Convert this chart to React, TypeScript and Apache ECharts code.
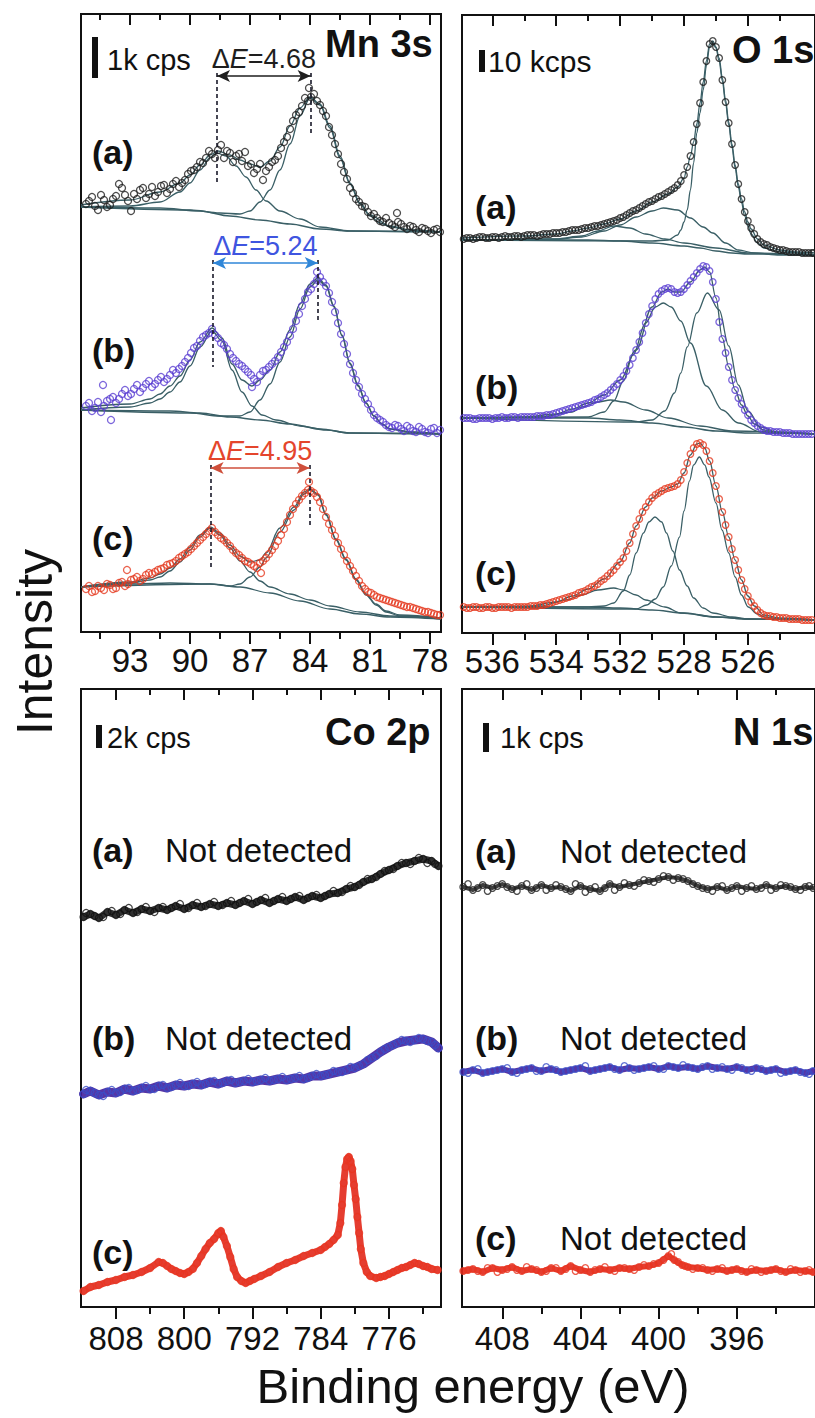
import React, { useEffect, useRef } from "react";
import * as echarts from "echarts";

const FONT = '"Liberation Sans", Arial, Helvetica, sans-serif';
const FIT = "#3a5f66";
const INK = "#111111";
const BLACK = "#1e1e1e";
const PURPLE = "#5a3fd2";
const RED = "#e5391f";

// ---------- axes (binding energy, eV) ----------
const MN_RANGE = [77.45, 95.45];
const MN_MAJOR = [93, 90, 87, 84, 81, 78];
const MN_MINOR = [94.5, 91.5, 88.5, 85.5, 82.5, 79.5];
const MN_TICK_LABELS = ["93", "90", "87", "84", "81", "78"];

const O_RANGE = [525.9, 536.95];
const O_MAJOR = [536, 534, 532, 530, 528];
const O_MINOR = [535, 533, 531, 529, 527];
const O_TICK_LABELS = ["536", "534", "532", "528", "526"];

const CO_RANGE = [769.9, 812.1];
const CO_MAJOR = [808, 800, 792, 784, 776];
const CO_MINOR = [804, 796, 788, 780, 772];
const CO_TICK_LABELS = ["808", "800", "792", "784", "776"];

const N_RANGE = [392.0, 410.06];
const N_MAJOR = [408, 404, 400, 396];
const N_MINOR = [406, 402, 398, 394];
const N_TICK_LABELS = ["408", "404", "400", "396"];

const INTENSITY_MAX = 618; // a.u. (stacked, offset)

// ---------- Mn 3s ----------
const MN_A = [[95.2,428],[94.9,435],[94.6,422],[94.3,432],[94.0,427],[93.7,436],[93.4,444],[93.1,431],[92.8,438],[92.5,442],[92.2,434],[91.9,445],[91.6,440],[91.3,447],[91.0,443],[90.7,451],[90.4,449],[90.1,458],[89.8,462],[89.5,470],[89.2,474],[88.9,478],[88.6,482],[88.3,474],[88.0,479],[87.7,476],[87.4,471],[87.1,466],[86.8,459],[86.5,468],[86.2,461],[85.9,470],[85.6,476],[85.3,490],[85.0,503],[84.7,517],[84.4,526],[84.1,531],[83.8,538],[83.5,527],[83.2,516],[82.9,497],[82.6,478],[82.3,460],[82.0,444],[81.7,433],[81.4,426],[81.1,420],[80.8,418],[80.5,411],[80.2,414],[79.9,407],[79.6,410],[79.3,405],[79.0,406],[78.7,402],[78.4,404],[78.1,401],[77.8,402],[77.5,400],[93.55,448],[92.95,421],[79.65,419],[88.45,487],[84.05,544],[86.35,452],[87.25,480]];
const MN_A_EXTRA = [[95.05,431],[94.75,426],[94.45,437],[94.15,425],[93.85,433],[93.25,437],[92.65,433],[92.35,444],[92.05,438],[91.75,436],[91.45,446],[91.15,439],[90.85,448],[90.55,445],[90.25,452],[89.95,461],[89.65,465],[89.35,469],[89.05,481],[88.75,474],[88.15,481],[87.85,470],[87.55,478],[86.95,468],[86.65,463],[86.05,465],[85.75,472],[85.45,484],[85.15,495],[84.85,511],[84.55,520],[84.25,534],[83.95,535],[83.65,531],[83.35,521],[83.05,505],[82.75,488],[82.45,468],[82.15,453],[81.85,439],[81.55,430],[81.25,425],[80.95,416],[80.65,414],[80.35,410],[80.05,409],[79.75,405],[79.45,408],[79.15,403],[78.85,405],[78.55,400],[78.25,403],[77.95,399],[77.65,403]];
const MN_A_BG = [[95.45,425],[91.5,424],[89.5,421],[88,416],[86.5,412],[85,408],[83.5,403],[82,401],[77.45,400]];
const MN_A_P1 = [[95.45,425],[93,426],[91.5,430],[90.5,440],[90,449],[89.5,462],[89,474],[88.65,479],[88.2,476],[87.7,466],[87.2,455],[86.7,442],[86.2,431],[85.5,421],[84.5,413],[83.5,405],[82,401],[77.45,400]];
const MN_A_P2 = [[95.45,425],[90,422],[88.5,419],[87.5,418],[87,421],[86.5,430],[86,442],[85.5,462],[85,488],[84.5,516],[84,534],[83.5,527],[83,504],[82.5,474],[82,448],[81.5,428],[81,416],[80.5,409],[80,405],[79,402],[77.45,400]];
const MN_A_ENV = [[95.45,427],[93,432],[91.5,440],[90.5,449],[90,457],[89.5,467],[89,477],[88.6,481],[88,477],[87.5,472],[87,468],[86.5,465],[86,471],[85.5,485],[85,506],[84.5,524],[84,535],[83.5,528],[83,506],[82.5,476],[82,449],[81.5,429],[81,417],[80,406],[79,402],[77.45,400]];

const MN_B = [[95.2,226],[94.9,221],[94.6,230],[94.3,226],[94.0,233],[93.7,229],[93.4,238],[93.1,236],[92.8,243],[92.5,240],[92.2,248],[91.9,245],[91.6,252],[91.3,250],[91.0,257],[90.7,259],[90.4,266],[90.1,274],[89.8,284],[89.5,291],[89.2,297],[88.9,303],[88.6,294],[88.3,287],[88.0,278],[87.7,271],[87.4,266],[87.1,260],[86.8,253],[86.5,257],[86.2,262],[85.9,268],[85.6,275],[85.3,285],[85.0,296],[84.7,311],[84.4,326],[84.1,340],[83.8,348],[83.5,355],[83.2,346],[82.9,330],[82.6,309],[82.3,288],[82.0,268],[81.7,252],[81.4,238],[81.1,228],[80.8,217],[80.5,212],[80.2,207],[79.9,204],[79.6,206],[79.3,201],[79.0,204],[78.7,200],[78.4,203],[78.1,199],[77.8,204],[77.5,202],[94.35,247],[93.95,212],[86.9,245],[83.65,360]];
const MN_B_EXTRA = [[95.05,229],[94.75,224],[94.45,220],[94.15,231],[93.85,235],[93.55,233],[93.25,242],[92.95,238],[92.65,247],[92.35,244],[92.05,251],[91.75,248],[91.45,255],[91.15,253],[90.85,262],[90.55,263],[90.25,270],[89.95,279],[89.65,286],[89.35,295],[89.05,299],[88.75,297],[88.45,289],[88.15,283],[87.85,274],[87.55,268],[87.25,263],[86.95,257],[86.65,250],[86.35,261],[86.05,265],[85.75,271],[85.45,280],[85.15,290],[84.85,303],[84.55,318],[84.25,333],[83.95,343],[83.65,352],[83.35,350],[83.05,339],[82.75,320],[82.45,298],[82.15,278],[81.85,259],[81.55,245],[81.25,233],[80.95,222],[80.65,214],[80.35,210],[80.05,205],[79.75,207],[79.45,203],[79.15,206],[78.85,201],[78.55,205],[78.25,200],[77.95,203],[77.65,199]];
const MN_B_BG = [[95.45,222],[91,221],[89.5,219],[88,215],[86.5,212],[85,208],[83.5,203],[82,199],[77.45,198]];
const MN_B_P1 = [[95.45,222],[93,225],[92,229],[91.5,233],[91,240],[90.5,250],[90,266],[89.5,285],[88.9,301],[88.4,291],[87.9,262],[87.4,240],[86.9,226],[86.4,217],[85.7,212],[84.5,206],[83.2,202],[82,199],[77.45,198]];
const MN_B_P2 = [[95.45,222],[90,219],[88.5,216],[87.5,216],[87,220],[86.5,232],[86,248],[85.5,270],[85,295],[84.5,323],[84,345],[83.6,352],[83.2,346],[82.8,325],[82.4,296],[82,268],[81.6,246],[81.2,229],[80.8,216],[80.4,208],[80,203],[79,200],[77.45,198]];
const MN_B_ENV = [[95.45,224],[93,228],[92,233],[91.5,238],[91,246],[90.5,256],[90,272],[89.5,290],[88.9,304],[88.4,294],[87.9,268],[87.4,252],[86.9,246],[86.5,252],[86,262],[85.5,280],[85,302],[84.5,328],[84,348],[83.6,354],[83.2,347],[82.8,326],[82.4,297],[82,269],[81.6,247],[81.2,229],[80.8,216],[80.4,208],[80,203],[79,200],[77.45,198]];

const MN_C = [[95.2,43],[94.9,40],[94.6,46],[94.3,42],[94.0,47],[93.7,44],[93.4,50],[93.1,48],[92.8,53],[92.5,51],[92.2,57],[91.9,58],[91.6,62],[91.3,64],[91.0,68],[90.7,71],[90.4,76],[90.1,80],[89.8,86],[89.5,92],[89.2,98],[88.9,104],[88.6,97],[88.3,92],[88.0,86],[87.7,79],[87.4,74],[87.1,70],[86.8,66],[86.5,69],[86.2,74],[85.9,82],[85.6,91],[85.3,103],[85.0,117],[84.7,128],[84.4,136],[84.1,142],[83.8,139],[83.5,130],[83.2,115],[82.9,102],[82.6,89],[82.3,77],[82.0,66],[81.7,56],[81.4,46],[81.1,40],[80.8,37],[80.5,34],[80.2,32],[79.9,30],[79.6,28],[79.3,26],[79.0,25],[78.7,23],[78.4,21],[78.1,20],[77.8,18],[77.5,17],[93.15,62],[86.45,59],[84.05,150]];
const MN_C_EXTRA = [[95.05,46],[94.75,41],[94.45,44],[94.15,48],[93.85,43],[93.55,49],[93.25,46],[92.95,52],[92.65,55],[92.35,53],[92.05,59],[91.75,60],[91.45,63],[91.15,67],[90.85,69],[90.55,74],[90.25,78],[89.95,83],[89.65,89],[89.35,95],[89.05,101],[88.75,100],[88.45,94],[88.15,89],[87.85,82],[87.55,77],[87.25,71],[86.95,68],[86.65,64],[86.35,71],[86.05,78],[85.75,86],[85.45,97],[85.15,110],[84.85,123],[84.55,132],[84.25,139],[83.95,141],[83.65,135],[83.35,123],[83.05,108],[82.75,96],[82.45,83],[82.15,71],[81.85,61],[81.55,51],[81.25,43],[80.95,39],[80.65,35],[80.35,33],[80.05,31],[79.75,29],[79.45,27],[79.15,25],[78.85,24],[78.55,22],[78.25,20],[77.95,19],[77.65,17]];
const MN_C_BG = [[95.45,45],[93,48],[91,49],[89,48],[87.5,45],[86,39],[84.5,31],[83,23],[81.5,18],[80,15],[77.45,13]];
const MN_C_P1 = [[95.45,45],[93,49],[92,52],[91.5,55],[91,61],[90.5,70],[90,82],[89.5,95],[89,104],[88.5,97],[88,84],[87.5,71],[87,60],[86.5,51],[86,45],[85,38],[84,32],[83,26],[81.5,20],[80,16],[77.45,14]];
const MN_C_P2 = [[95.45,45],[89,48],[88,46],[87.5,48],[87,55],[86.5,65],[86.2,74],[85.5,100],[84.8,122],[84.3,138],[84,142],[83.6,137],[83.2,117],[82.7,92],[82.2,72],[81.7,52],[81.2,37],[80.7,27],[80.2,20],[79.5,16],[77.45,13]];
const MN_C_ENV = [[95.45,45],[93,50],[92,54],[91.5,58],[91,64],[90.5,73],[90,85],[89.5,97],[89,105],[88.5,99],[88,87],[87.5,76],[87,70],[86.5,72],[86.2,79],[85.5,104],[84.8,125],[84.3,140],[84,143],[83.6,138],[83.2,118],[82.7,93],[82.2,73],[81.7,53],[81.2,38],[80.7,28],[80.2,21],[79.5,17],[77.45,14]];

// multiplet splitting: peak energies and ΔE labels
const MN_SPLIT = [
  { label: "4.68", hi: 88.65, lo: 83.97, y: 556, yHi: 450, yLo: 499, text: BLACK, arrow: BLACK },
  { label: "5.24", hi: 88.85, lo: 83.61, y: 369, yHi: 265, yLo: 312, text: "#3f55e0", arrow: "#2f86d8" },
  { label: "4.95", hi: 88.97, lo: 84.02, y: 164, yHi: 62, yLo: 107, text: "#e4452c", arrow: "#cf4f3b" },
];

// ---------- O 1s ----------
const O_A = [[536.8,395],[536.6,394],[536.4,396],[536.2,395],[536.0,396],[535.8,395],[535.6,397],[535.4,396],[535.2,397],[535.0,397],[534.8,398],[534.6,397],[534.4,399],[534.2,399],[534.0,400],[533.8,401],[533.6,402],[533.4,403],[533.2,404],[533.0,405],[532.8,407],[532.6,408],[532.4,410],[532.2,412],[532.0,415],[531.8,418],[531.6,422],[531.4,425],[531.2,429],[531.1,431],[531.0,432],[530.9,434],[530.8,436],[530.7,437],[530.6,439],[530.5,441],[530.4,443],[530.3,445],[530.2,448],[530.1,452],[530.0,458],[529.9,466],[529.8,477],[529.7,491],[529.6,509],[529.5,530],[529.4,551],[529.3,572],[529.2,589],[529.1,592],[529.0,586],[528.9,575],[528.8,553],[528.7,531],[528.6,510],[528.5,489],[528.4,468],[528.3,449],[528.2,434],[528.1,421],[528.0,412],[527.9,405],[527.8,399],[527.7,394],[527.6,391],[527.4,388],[527.2,385],[527.0,383],[526.8,382],[526.6,381],[526.4,381],[526.2,380],[526.0,380]];
const O_A_EXTRA = [[536.9,394],[536.7,395],[536.5,395],[536.3,396],[536.1,395],[535.9,396],[535.7,396],[535.5,396],[535.3,397],[535.1,396],[534.9,398],[534.7,398],[534.5,398],[534.3,399],[534.1,400],[533.9,400],[533.7,401],[533.5,403],[533.3,403],[533.1,405],[532.9,406],[532.7,407],[532.5,409],[532.3,411],[532.1,413],[531.9,416],[531.7,420],[531.5,423],[531.3,427],[527.5,389],[527.3,386],[527.1,384],[526.9,383],[526.7,381],[526.5,381],[526.3,380],[526.1,380],[525.95,380]];
const O_A_BG = [[536.95,393],[533,393],[532,392],[531,390],[530,387],[529.5,385],[529,382],[528.5,380],[528,379],[525.9,378]];
const O_A_C3 = [[536.95,393],[534,394],[533.2,397],[532.7,402],[532.2,407],[531.7,405],[531.2,399],[530.6,394],[530,390],[529,385],[528,380],[525.9,378]];
const O_A_C2 = [[536.95,393],[534,394],[533.2,396],[532.5,402],[532,408],[531.5,416],[531,422],[530.65,425],[530.2,423],[529.8,415],[529.4,406],[529.1,400],[528.7,390],[528.3,383],[527.8,380],[527,378],[525.9,378]];
const O_A_C1 = [[536.95,393],[531,392],[530.5,393],[530.2,398],[530.1,403],[530.0,411],[529.9,423],[529.8,443],[529.7,470],[529.6,500],[529.5,520],[529.4,543],[529.3,567],[529.2,586],[529.1,590],[529.0,585],[528.9,572],[528.8,552],[528.7,530],[528.6,508],[528.5,486],[528.4,465],[528.3,446],[528.2,430],[528.1,417],[528.0,407],[527.9,399],[527.7,390],[527.5,385],[527,381],[525.9,378]];
const O_A_ENV = [[536.95,395],[535,397],[534,399],[533.5,402],[533,405],[532.5,409],[532,414],[531.5,422],[531,431],[530.5,439],[530.2,446],[530,455],[529.9,466],[529.8,477],[529.7,491],[529.6,509],[529.5,530],[529.4,551],[529.3,572],[529.2,589],[529.1,592],[529,586],[528.9,575],[528.8,555],[528.7,533],[528.6,511],[528.5,489],[528.4,468],[528.3,449],[528.2,434],[528.1,421],[528,411],[527.9,404],[527.7,394],[527.5,388],[527,383],[526.5,381],[525.9,380]];

const O_B = [[536.8,215],[536.6,214],[536.4,215],[536.2,215],[536.0,214],[535.8,215],[535.6,215],[535.4,216],[535.2,215],[535.0,216],[534.8,216],[534.6,217],[534.4,217],[534.2,218],[534.0,220],[533.8,222],[533.6,224],[533.4,226],[533.2,228],[533.0,230],[532.8,233],[532.6,236],[532.5,238],[532.4,240],[532.3,243],[532.2,246],[532.1,249],[532.0,253],[531.9,257],[531.8,262],[531.7,268],[531.6,275],[531.5,283],[531.4,291],[531.3,300],[531.2,310],[531.1,319],[531.0,327],[530.9,334],[530.8,339],[530.7,342],[530.6,344],[530.5,345],[530.4,344],[530.3,341],[530.2,340],[530.1,341],[530.0,344],[529.9,348],[529.8,352],[529.7,356],[529.6,360],[529.5,364],[529.4,367],[529.3,366],[529.2,362],[529.1,351],[529.0,334],[528.9,311],[528.8,294],[528.7,280],[528.6,266],[528.5,253],[528.4,243],[528.3,235],[528.2,229],[528.1,223],[528.0,218],[527.9,213],[527.8,210],[527.7,207],[527.6,205],[527.5,203],[527.3,202],[527.1,201],[526.9,200],[526.7,200],[526.5,199],[526.3,199],[526.1,199]];
const O_B_EXTRA = [[536.9,215],[536.7,215],[536.5,214],[536.3,215],[536.1,215],[535.9,215],[535.7,216],[535.5,215],[535.3,216],[535.1,216],[534.9,216],[534.7,216],[534.5,217],[534.3,218],[534.1,219],[533.9,221],[533.7,223],[533.5,225],[533.3,227],[533.1,229],[532.9,231],[532.7,234],[527.4,202],[527.2,201],[527.0,201],[526.8,200],[526.6,199],[526.4,199],[526.2,199],[526.0,199]];
const O_B_BG = [[536.95,215],[533,215],[532,213],[531,210],[530,206],[529,202],[528,200],[525.9,199]];
const O_B_C3 = [[536.95,215],[534.5,216],[533.5,221],[533.2,226],[532.7,231],[532.3,233],[531.9,231],[531.2,223],[530.5,215],[529.5,207],[528.5,202],[525.9,199]];
const O_B_C2 = [[536.95,215],[533,216],[532.5,221],[532.2,232],[531.9,252],[531.6,278],[531.2,310],[530.9,326],[530.65,330],[530.4,326],[530.1,312],[529.8,290],[529.3,247],[528.8,223],[528.3,210],[527.6,201],[525.9,199]];
const O_B_C1 = [[536.95,215],[531.5,211],[531,213],[530.6,222],[530.3,240],[530.1,260],[529.9,286],[529.6,320],[529.27,340],[528.9,323],[528.6,287],[528.3,248],[528,222],[527.6,206],[527.1,201],[525.9,199]];
const O_B_ENV = [[536.95,215],[535,216],[534,219],[533.5,224],[533,230],[532.5,238],[532,253],[531.5,283],[531,326],[530.7,341],[530.5,344],[530.3,341],[530.1,341],[529.8,351],[529.5,363],[529.35,366],[529.2,361],[529,335],[528.8,295],[528.6,266],[528.4,243],[528.2,228],[528,217],[527.8,209],[527.5,203],[527,200],[525.9,199]];

const O_C = [[536.8,25],[536.6,26],[536.4,25],[536.2,26],[536.0,25],[535.8,26],[535.6,26],[535.4,25],[535.2,26],[535.0,26],[534.8,27],[534.6,27],[534.4,28],[534.2,30],[534.0,32],[533.8,34],[533.6,36],[533.4,38],[533.2,41],[533.0,44],[532.8,47],[532.6,52],[532.5,54],[532.4,57],[532.3,60],[532.2,63],[532.1,67],[532.0,71],[531.9,75],[531.8,82],[531.7,90],[531.6,99],[531.5,107],[531.4,114],[531.3,121],[531.2,126],[531.1,131],[531.0,135],[530.9,138],[530.8,140],[530.7,142],[530.6,144],[530.5,145],[530.4,146],[530.3,147],[530.2,149],[530.1,153],[530.0,161],[529.9,170],[529.8,179],[529.7,185],[529.6,189],[529.5,190],[529.4,188],[529.3,182],[529.2,172],[529.1,160],[529.0,147],[528.9,134],[528.8,121],[528.7,108],[528.6,96],[528.5,84],[528.4,73],[528.3,63],[528.2,53],[528.1,44],[528.0,37],[527.9,31],[527.8,27],[527.7,23],[527.6,20],[527.5,18],[527.3,17],[527.1,16],[526.9,15],[526.7,14],[526.5,14],[526.3,13],[526.1,13]];
const O_C_EXTRA = [[536.9,26],[536.7,25],[536.5,26],[536.3,25],[536.1,26],[535.9,25],[535.7,26],[535.5,26],[535.3,26],[535.1,26],[534.9,26],[534.7,27],[534.5,28],[534.3,29],[534.1,31],[533.9,33],[533.7,35],[533.5,37],[533.3,40],[533.1,42],[532.9,46],[532.7,49],[527.4,17],[527.2,16],[527.0,15],[526.8,15],[526.6,14],[526.4,14],[526.2,13],[526.0,13]];
const O_C_BG = [[536.95,26],[533,26],[532,25],[531,23],[530,20],[529,16],[528,14],[525.9,13]];
const O_C_C3 = [[536.95,26],[534.5,27],[533.7,33],[533.2,38],[532.7,43],[532.2,45],[531.9,43],[531.5,38],[531.2,33],[530.6,26],[530.1,20],[529,16],[528,14],[525.9,13]];
const O_C_C2 = [[536.95,26],[533,26],[532.5,27],[532.2,30],[531.9,42],[531.7,58],[531.5,80],[531.27,100],[531.1,111],[530.91,116],[530.7,111],[530.55,100],[530.35,82],[530.14,63],[529.9,47],[529.7,35],[529.4,25],[529.1,20],[528.5,16],[528,14],[525.9,13]];
const O_C_C1 = [[536.95,26],[531.5,24],[531.17,28],[530.9,34],[530.65,46],[530.4,67],[530.14,96],[530.0,122],[529.83,152],[529.7,168],[529.52,176],[529.35,168],[529.22,156],[529.0,130],[528.81,103],[528.6,80],[528.4,56],[528.2,38],[527.99,26],[527.7,19],[527.48,16],[527,14],[525.9,13]];
const O_C_ENV = [[536.95,26],[535,26],[534,31],[533.5,37],[533,44],[532.5,54],[532,71],[531.7,90],[531.5,107],[531.2,126],[531,135],[530.7,142],[530.4,146],[530.2,149],[530,160],[529.8,178],[529.6,189],[529.5,190],[529.35,185],[529.2,172],[529,147],[528.8,121],[528.6,96],[528.4,73],[528.2,53],[528,37],[527.8,27],[527.5,18],[527,15],[525.9,13]];

// ---------- Co 2p ----------
const CO_A = [[811.8,390],[811,393],[810,389],[809,395],[808,392],[807,397],[806,394],[805,398],[804,396],[803,399],[802,397],[801,401],[800,398],[799,402],[798,400],[797,403],[796,401],[795,404],[794,402],[793,406],[792,403],[791,407],[790,404],[789,408],[788,406],[787,410],[786,407],[785,411],[784,409],[783,413],[782,414],[781,418],[780,420],[779,425],[778,428],[777,433],[776,437],[775,441],[774,444],[773,446],[772,448],[771,446],[770.2,441]];
const CO_A_EXTRA = [[811.5,394],[810.5,391],[809.5,390],[808.5,396],[807.5,393],[806.5,399],[805.5,395],[804.5,400],[803.5,395],[802.5,400],[801.5,399],[800.5,403],[799.5,399],[798.5,404],[797.5,401],[796.5,405],[795.5,402],[794.5,406],[793.5,404],[792.5,408],[791.5,405],[790.5,409],[789.5,406],[788.5,410],[787.5,408],[786.5,411],[785.5,409],[784.5,412],[783.5,411],[782.5,416],[781.5,415],[780.5,421],[779.5,422],[778.5,428],[777.5,430],[776.5,436],[775.5,438],[774.5,444],[773.5,443],[772.5,449],[771.5,444],[770.6,443]];
const CO_B = [[811.8,213],[811,216],[810,212],[809,215],[808,214],[807,218],[806,216],[805,219],[804,218],[803,221],[802,219],[801,222],[800,221],[799,223],[798,222],[797,225],[796,223],[795,226],[794,224],[793,226],[792,225],[791,227],[790,226],[789,228],[788,227],[787,229],[786,228],[785,231],[784,231],[783,233],[782,235],[781,237],[780,239],[779,243],[778,249],[777,255],[776,260],[775,264],[774,266],[773,267],[772,268],[771,265],[770.2,259]];
const CO_B_EXTRA = [[811.5,217],[810.5,214],[809.5,211],[808.5,217],[807.5,215],[806.5,219],[805.5,217],[804.5,221],[803.5,218],[802.5,222],[801.5,220],[800.5,224],[799.5,221],[798.5,225],[797.5,223],[796.5,226],[795.5,224],[794.5,227],[793.5,225],[792.5,228],[791.5,226],[790.5,229],[789.5,227],[788.5,230],[787.5,228],[786.5,231],[785.5,229],[784.5,233],[783.5,232],[782.5,236],[781.5,235],[780.5,240],[779.5,241],[778.5,247],[777.5,251],[776.5,258],[775.5,262],[774.5,267],[773.5,265],[772.5,269],[771.5,266],[770.6,262]];
const CO_C = [[811.8,16],[811,20],[810,22],[809,25],[808,27],[807,30],[806,32],[805,35],[804,39],[803,45],[802.5,44],[802,41],[801.5,38],[801,36],[800.5,34],[800,33],[799.5,35],[799,38],[798.5,44],[798,51],[797.5,58],[797,64],[796.5,68],[796,74],[795.7,76],[795.4,70],[795,61],[794.6,50],[794.2,38],[793.8,30],[793.3,26],[792.8,24],[792.3,26],[791.8,28],[791,31],[790,35],[789,40],[788,44],[787,47],[786,51],[785,54],[784,57],[783.5,60],[783,63],[782.5,67],[782,72],[781.7,84],[781.5,102],[781.3,124],[781.1,140],[780.9,148],[780.7,150],[780.5,146],[780.3,138],[780.1,122],[779.9,108],[779.7,90],[779.5,74],[779.3,58],[779.0,44],[778.6,35],[778.2,31],[777.5,29],[777,30],[776.5,31],[776,33],[775.5,35],[775,37],[774.5,39],[774,40],[773.5,42],[773,44],[772.5,43],[772,41],[771.5,40],[771,38],[770.3,37]];

// ---------- N 1s ----------
const N_A = [[410.0,420],[409.5,417],[409.0,422],[408.5,419],[408.0,423],[407.5,418],[407.0,421],[406.5,417],[406.0,422],[405.5,419],[405.0,420],[404.5,416],[404.0,421],[403.5,418],[403.0,416],[402.5,423],[402.0,420],[401.5,422],[401.0,424],[400.5,426],[400.0,428],[399.5,430],[399.0,429],[398.5,426],[398.0,421],[397.5,418],[397.0,420],[396.5,417],[396.0,421],[395.5,419],[395.0,418],[394.5,422],[394.0,419],[393.5,421],[393.0,418],[392.5,420],[392.1,419]];
const N_A_EXTRA = [[409.75,423],[409.25,419],[408.75,416],[408.25,421],[407.75,420],[407.25,416],[406.75,423],[406.25,419],[405.75,417],[405.25,422],[404.75,418],[404.25,423],[403.75,415],[403.25,420],[402.75,419],[402.25,417],[401.75,424],[401.25,421],[400.75,427],[400.25,425],[399.75,431],[399.25,427],[398.75,428],[398.25,423],[397.75,419],[397.25,416],[396.75,421],[396.25,419],[395.75,416],[395.25,421],[394.75,419],[394.25,417],[393.75,422],[393.25,420],[392.75,417],[392.3,421]];
const N_B = [[410.0,235],[409.5,237],[409.0,234],[408.5,236],[408.0,238],[407.5,235],[407.0,237],[406.5,239],[406.0,236],[405.5,238],[405.0,235],[404.5,237],[404.0,239],[403.5,236],[403.0,238],[402.5,240],[402.0,237],[401.5,239],[401.0,238],[400.5,240],[400.0,238],[399.5,241],[399.0,239],[398.5,240],[398.0,238],[397.5,241],[397.0,239],[396.5,238],[396.0,240],[395.5,237],[395.0,239],[394.5,236],[394.0,238],[393.5,235],[393.0,237],[392.5,234],[392.1,236]];
const N_B_EXTRA = [[409.75,234],[409.25,238],[408.75,235],[408.25,237],[407.75,239],[407.25,234],[406.75,238],[406.25,236],[405.75,240],[405.25,237],[404.75,236],[404.25,238],[403.75,241],[403.25,237],[402.75,239],[402.25,238],[401.75,241],[401.25,237],[400.75,239],[400.25,241],[399.75,238],[399.25,240],[398.75,242],[398.25,239],[397.75,240],[397.25,238],[396.75,240],[396.25,237],[395.75,239],[395.25,236],[394.75,238],[394.25,237],[393.75,234],[393.25,236],[392.75,235],[392.3,233]];
const N_C = [[410.0,36],[409.5,38],[409.0,35],[408.5,39],[408.0,37],[407.5,40],[407.0,36],[406.5,38],[406.0,35],[405.5,39],[405.0,36],[404.5,41],[404.0,37],[403.5,35],[403.0,38],[402.5,37],[402.0,39],[401.5,38],[401.0,40],[400.5,41],[400.0,44],[399.5,51],[399.2,47],[398.8,42],[398.5,40],[398.0,39],[397.5,37],[397.0,38],[396.5,36],[396.0,38],[395.5,35],[395.0,37],[394.5,36],[394.0,38],[393.5,35],[393.0,37],[392.5,36],[392.1,35]];
const N_C_EXTRA = [[409.75,37],[409.25,36],[408.75,39],[408.25,35],[407.75,38],[407.25,37],[406.75,40],[406.25,37],[405.75,36],[405.25,39],[404.75,38],[404.25,36],[403.75,39],[403.25,37],[402.75,40],[402.25,36],[401.75,39],[401.25,37],[400.75,42],[400.25,43],[399.75,47],[399.35,53],[399.0,45],[398.65,41],[398.25,38],[397.75,39],[397.25,36],[396.75,39],[396.25,37],[395.75,36],[395.25,38],[394.75,35],[394.25,37],[393.75,36],[393.25,38],[392.75,35],[392.3,37]];

// intensity scale bars (a.u. extent = labelled counts)
const SCALE_BARS = [
  { e: 94.78, from: 554, to: 595 },
  { e: 536.32, from: 561, to: 583 },
  { e: 810.05, from: 559, to: 582 },
  { e: 408.83, from: 555, to: 584 },
];

// ---------- layout ----------
const PANEL_W = 360;
const PANEL_H = 618;
const PANELS = [
  { left: 81, top: 14, range: MN_RANGE, major: MN_MAJOR, minor: MN_MINOR, labels: MN_TICK_LABELS, margin: 12 },
  { left: 462, top: 15, range: O_RANGE, major: O_MAJOR, minor: O_MINOR, labels: O_TICK_LABELS, margin: 12 },
  { left: 81, top: 689, range: CO_RANGE, major: CO_MAJOR, minor: CO_MINOR, labels: CO_TICK_LABELS, margin: 15 },
  { left: 462, top: 689, range: N_RANGE, major: N_MAJOR, minor: N_MINOR, labels: N_TICK_LABELS, margin: 15 },
];

function buildOption() {
  const grid: any[] = [];
  const xAxis: any[] = [];
  const yAxis: any[] = [];
  PANELS.forEach((p) => {
    [0, 1].forEach((k) => {
      const gi = grid.length;
      grid.push({ left: p.left, top: p.top, width: PANEL_W, height: PANEL_H, show: k === 0, borderColor: INK, borderWidth: 2, backgroundColor: "transparent" });
      const vals = k === 0 ? p.major : p.minor;
      const tickStyle = { color: INK, width: 2 };
      xAxis.push({
        type: "value", gridIndex: gi, position: "bottom", min: p.range[0], max: p.range[1], inverse: true,
        axisLine: { show: false }, splitLine: { show: false },
        axisTick: { show: true, inside: false, length: k === 0 ? 12 : 7, customValues: vals, lineStyle: tickStyle },
        axisLabel: k === 0 ? {
          show: true, customValues: vals, margin: p.margin, fontSize: 33, color: INK, fontFamily: FONT,
          formatter: (v: number) => { const i = p.major.findIndex((m) => Math.abs(m - v) < 1e-6); return i >= 0 ? p.labels[i] : ""; },
        } : { show: false },
      });
      xAxis.push({
        type: "value", gridIndex: gi, position: "top", min: p.range[0], max: p.range[1], inverse: true,
        axisLine: { show: false }, splitLine: { show: false },
        axisTick: { show: true, inside: true, length: k === 0 ? 11 : 6, customValues: vals, lineStyle: tickStyle },
        axisLabel: { show: false },
      });
      yAxis.push({ type: "value", gridIndex: gi, min: 0, max: INTENSITY_MAX, show: false });
    });
  });

  const series: any[] = [];
  const ax = (panel: number) => ({ xAxisIndex: 4 * panel, yAxisIndex: 2 * panel });
  const fit = (panel: number, data: number[][], extra: any = {}) =>
    series.push({ type: "line", ...ax(panel), data, smooth: 0.35, smoothMonotone: "x", symbol: "none", showSymbol: false, silent: true, lineStyle: { color: FIT, width: 1.3 }, z: 2, ...extra });
  const pts = (panel: number, data: number[][], color: string, size = 7) =>
    series.push({ type: "scatter", ...ax(panel), data, symbol: "circle", symbolSize: size, silent: true, itemStyle: { color: "rgba(255,255,255,0)", borderColor: color, borderWidth: 1.3 }, z: 3 });
  const band = (panel: number, data: number[][], color: string, width: number, extra: any = {}) =>
    series.push({ type: "line", ...ax(panel), data, symbol: "none", showSymbol: false, silent: true, lineStyle: { color, width, opacity: 0.9, join: "round", cap: "round" }, z: 1, ...extra });

  const scaleLine = (s: any) => [
    { coord: [s.e, s.from], symbol: "none", lineStyle: { color: INK, width: 6, type: "solid", cap: "butt" } },
    { coord: [s.e, s.to], symbol: "none" },
  ];
  const dashLine = (e: number, y1: number, y2: number) => [
    { coord: [e, y1], symbol: "none", lineStyle: { color: "#1a1a2a", width: 1.6, type: [4, 3] } },
    { coord: [e, y2], symbol: "none" },
  ];
  const arrowLine = (s: any) => [
    {
      coord: [s.hi, s.y], symbol: "arrow", symbolSize: [9, 13], lineStyle: { color: s.arrow, width: 1.6, type: "solid" },
      label: {
        show: true, position: "insideMiddleTop", distance: 4,
        formatter: "{n|\u0394}{i|E}{n|=" + s.label + "}",
        rich: {
          n: { fontSize: 27, color: s.text, fontFamily: FONT },
          i: { fontSize: 27, color: s.text, fontFamily: FONT, fontStyle: "italic" },
        },
      },
    },
    { coord: [s.lo, s.y], symbol: "arrow", symbolSize: [9, 13] },
  ];
  const markLine = (data: any[]) => ({ silent: true, animation: false, symbol: "none", label: { show: false }, data });

  const mnMarks: any[] = [scaleLine(SCALE_BARS[0])];
  MN_SPLIT.forEach((s) => {
    mnMarks.push(dashLine(s.hi, s.y + 3, s.yHi));
    mnMarks.push(dashLine(s.lo, s.y + 3, s.yLo));
    mnMarks.push(arrowLine(s));
  });

  // Mn 3s
  fit(0, MN_A_BG, { markLine: markLine(mnMarks) });
  fit(0, MN_A_P1); fit(0, MN_A_P2); fit(0, MN_A_ENV);
  fit(0, MN_B_BG); fit(0, MN_B_P1); fit(0, MN_B_P2); fit(0, MN_B_ENV);
  fit(0, MN_C_BG); fit(0, MN_C_P1); fit(0, MN_C_P2); fit(0, MN_C_ENV);
  pts(0, MN_A.concat(MN_A_EXTRA), BLACK); pts(0, MN_B.concat(MN_B_EXTRA), PURPLE); pts(0, MN_C.concat(MN_C_EXTRA), RED);

  // O 1s
  fit(1, O_A_BG, { markLine: markLine([scaleLine(SCALE_BARS[1])]) });
  fit(1, O_A_C3); fit(1, O_A_C2); fit(1, O_A_C1); fit(1, O_A_ENV);
  fit(1, O_B_BG); fit(1, O_B_C3); fit(1, O_B_C2); fit(1, O_B_C1); fit(1, O_B_ENV);
  fit(1, O_C_BG); fit(1, O_C_C3); fit(1, O_C_C2); fit(1, O_C_C1); fit(1, O_C_ENV);
  pts(1, O_A.concat(O_A_EXTRA), BLACK, 6.5); pts(1, O_B.concat(O_B_EXTRA), PURPLE, 6.5); pts(1, O_C.concat(O_C_EXTRA), RED, 6.5);

  // Co 2p
  band(2, CO_A, "#1a1a1a", 7, { markLine: markLine([scaleLine(SCALE_BARS[2])]) });
  band(2, CO_B, "#44209c", 9);
  band(2, CO_C, "#e2281a", 7);
  pts(2, CO_A.concat(CO_A_EXTRA), "#111", 7); pts(2, CO_B.concat(CO_B_EXTRA), "#3a4fc8", 7); pts(2, CO_C, "#e8351f", 7);

  // N 1s
  band(3, N_A, "#2a2a2a", 4, { markLine: markLine([scaleLine(SCALE_BARS[3])]) });
  band(3, N_B, "#44209c", 6);
  band(3, N_C, "#e2281a", 6);
  pts(3, N_A.concat(N_A_EXTRA), "#222", 6.5); pts(3, N_B.concat(N_B_EXTRA), "#3a4fc8", 6.5); pts(3, N_C.concat(N_C_EXTRA), "#e8351f", 6.5);

  const txt = (x: number, y: number, text: string, size: number, bold = false, extra: any = {}) => ({
    type: "text", x, y, silent: true, z: 100, rotation: extra.rotation || 0,
    style: {
      text, fontSize: size, fontFamily: FONT, fontWeight: bold ? "bold" : "normal", fill: extra.fill || INK,
      textAlign: extra.align || "left", align: extra.align || "left", textVerticalAlign: "middle", verticalAlign: "middle",
    },
  });

  const graphic = [
    // Mn 3s
    txt(107, 60, "1k cps", 29), txt(325, 44, "Mn 3s", 38, true),
    txt(92, 152, "(a)", 34, true), txt(92, 350, "(b)", 34, true), txt(92, 538, "(c)", 34, true),
    // O 1s
    txt(488, 61, "10 kcps", 30), txt(732, 50, "O 1s", 38, true),
    txt(475, 207, "(a)", 34, true), txt(475, 387, "(b)", 34, true), txt(475, 573, "(c)", 34, true),
    // Co 2p
    txt(107, 738, "2k cps", 29), txt(325, 732, "Co 2p", 38, true),
    txt(92, 850, "(a)", 34, true), txt(165, 850, "Not detected", 33),
    txt(92, 1038, "(b)", 34, true), txt(165, 1038, "Not detected", 33),
    txt(92, 1252, "(c)", 34, true),
    // N 1s
    txt(500, 738, "1k cps", 29), txt(733, 732, "N 1s", 38, true),
    txt(475, 851, "(a)", 34, true), txt(560, 851, "Not detected", 33),
    txt(475, 1038, "(b)", 34, true), txt(560, 1038, "Not detected", 33),
    txt(475, 1238, "(c)", 34, true), txt(560, 1238, "Not detected", 33),
    // axis titles
    txt(35, 642, "Intensity", 50, false, { align: "center", rotation: Math.PI / 2 }),
    txt(473, 1386, "Binding energy (eV)", 49, false, { align: "center" }),
  ];

  return { animation: false, backgroundColor: "#ffffff", grid, xAxis, yAxis, series, graphic };
}

export default function App() {
  const ref = useRef<HTMLDivElement>(null);
  useEffect(() => {
    if (!ref.current) return;
    const chart = echarts.init(ref.current, null, { renderer: "svg" });
    chart.setOption(buildOption() as any);
    return () => chart.dispose();
  }, []);
  return <div ref={ref} style={{ position: "absolute", left: 0, top: 0, width: 815, height: 1418, background: "#fff" }} />;
}
